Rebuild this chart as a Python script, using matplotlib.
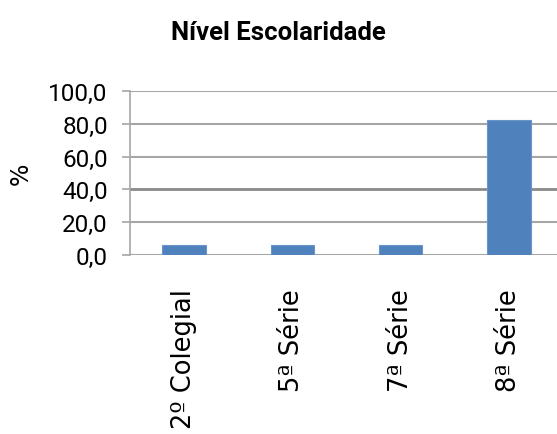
import matplotlib
matplotlib.use("Agg")
import matplotlib.pyplot as plt

categories = ["2º Colegial", "5ª Série", "7ª Série", "8ª Série"]
values = [5.9, 5.9, 5.9, 82.4]
yticks = [0, 20, 40, 60, 80, 100]
ytick_labels = [f"{t:.1f}".replace(".", ",") for t in yticks]

fig = plt.figure(figsize=(5.57, 4.35), dpi=100)
ax = fig.add_axes([0.2334, 0.4115, 0.7774, 0.377])

x = list(range(len(categories)))
ax.bar(x, values, width=0.4, color="#4f81bd", edgecolor="#6a95c8", linewidth=0.8, zorder=3)

ax.set_xlim(-0.5, 3.5)
ax.set_ylim(0, 100)
ax.set_yticks(yticks)
ax.set_yticklabels(ytick_labels, fontfamily="Roboto", fontsize=17.5)
ax.set_xticks(x)
ax.set_xticklabels(categories, rotation=90, fontfamily="DejaVu Sans", fontsize=18.5, va="top")

# horizontal gridlines, 40 line a bit heavier
for t in yticks:
    if t == 40:
        ax.axhline(t, color="#8a8a8a", linewidth=2.0, zorder=1)
    else:
        ax.axhline(t, color="#a6a6a6", linewidth=1.5, zorder=1)

for side in ["top", "right", "bottom"]:
    ax.spines[side].set_visible(False)
ax.spines["left"].set_color("#a6a6a6")
ax.spines["left"].set_linewidth(1.2)
ax.tick_params(axis="y", length=6, color="#a6a6a6", width=1.2, pad=10)
ax.tick_params(axis="x", length=0, pad=24)

ax.set_ylabel("%", fontsize=17, labelpad=11)
fig.text(0.5, 0.925, "Nível Escolaridade", ha="center", va="center",
         fontsize=18.5, fontweight="bold", fontfamily="Roboto")

fig.savefig("out.png", dpi=100)
